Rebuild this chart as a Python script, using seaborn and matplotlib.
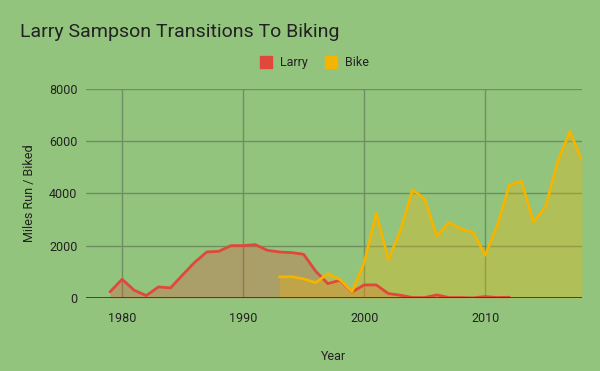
import pandas as pd
import matplotlib.pyplot as plt
import seaborn as sns

# -----------------------------
# Data
# -----------------------------
larry_years = list(range(1979, 2013))
larry_miles = [
    230, 714, 293, 89, 421, 383, 880, 1365, 1760, 1786,
    2003, 2003, 2041, 1824, 1760, 1735, 1671, 1020, 548, 676,
    230, 497, 497, 166, 102, 13, 13, 115, 13, 13,
    0, 51, 13, 25
]

bike_years = list(range(1993, 2019))
bike_miles = [
    804, 816, 727, 587, 931, 701, 242, 1339, 3253, 1467,
    2589, 4145, 3788, 2360, 2895, 2640, 2513, 1633, 2780, 4324,
    4464, 2908, 3508, 5230, 6378, 5268
]

y_ticks = [0, 2000, 4000, 6000, 8000]
x_ticks = [1980, 1990, 2000, 2010]

bg = "#93c47d"
red = "#e0483c"
yellow = "#f4b400"
grid_col = "#6f8f62"

df = pd.concat([
    pd.DataFrame({"Year": larry_years, "Miles": larry_miles, "Series": "Larry"}),
    pd.DataFrame({"Year": bike_years, "Miles": bike_miles, "Series": "Bike"}),
])

sns.set_theme(style="white")
plt.rcParams["font.family"] = ["Roboto", "DejaVu Sans"]

fig = plt.figure(figsize=(6, 3.71), dpi=100, facecolor=bg)
ax = fig.add_axes([0.143, 0.197, 0.827, 0.563])
ax.set_facecolor(bg)

# -----------------------------
# Areas then lines
# -----------------------------
ax.fill_between(larry_years, larry_miles, color=red, alpha=0.3, lw=0)
ax.fill_between(bike_years, bike_miles, color=yellow, alpha=0.3, lw=0)

sns.lineplot(
    data=df, x="Year", y="Miles", hue="Series",
    palette={"Larry": red, "Bike": yellow},
    linewidth=2, ax=ax, legend=False, zorder=3
)

ax.set_xlim(1977, 2018)
ax.set_ylim(0, 8000)
ax.set_xticks(x_ticks)
ax.set_yticks(y_ticks)
ax.grid(True, color=grid_col, linewidth=1)
ax.set_axisbelow(True)
for s in ax.spines.values():
    s.set_visible(False)
ax.axhline(0, color="#333333", linewidth=1.2, zorder=4)

ax.tick_params(axis="both", length=0, labelsize=9, colors="#222222")
ax.tick_params(axis="x", pad=10)
ax.tick_params(axis="y", pad=6)
ax.set_xlabel("Year", fontsize=9, color="#222222", labelpad=18)
ax.set_ylabel("Miles Run / Biked", fontsize=9, color="#222222", labelpad=9)

fig.text(0.033, 0.915, "Larry Sampson Transitions To Biking",
         fontsize=14, color="#222222", va="center")

# legend
handles = [
    plt.Line2D([], [], marker="s", linestyle="", markersize=9,
               markerfacecolor=red, markeredgecolor=red),
    plt.Line2D([], [], marker="s", linestyle="", markersize=9,
               markerfacecolor=yellow, markeredgecolor=yellow),
]
fig.legend(handles, ["Larry", "Bike"], loc="center",
           bbox_to_anchor=(0.525, 0.831), ncol=2, frameon=False,
           fontsize=9, handlelength=0.8, handletextpad=0.75,
           columnspacing=1.4, labelcolor="#222222")

fig.savefig("out.png", dpi=100, facecolor=bg)
